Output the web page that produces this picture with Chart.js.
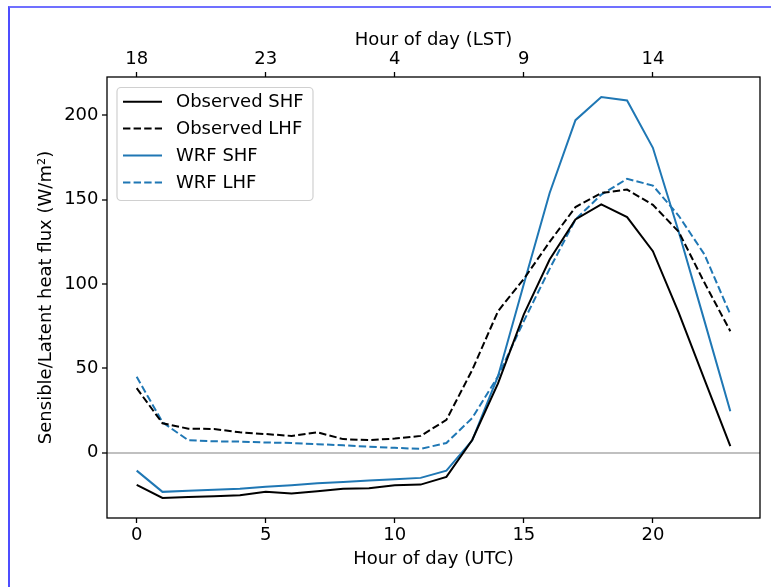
<!DOCTYPE html>
<html>
<head>
<meta charset="utf-8">
<script src="https://cdn.jsdelivr.net/npm/chart.js@4.4.1/dist/chart.umd.min.js"></script>
<style>
  html, body { margin: 0; padding: 0; background: #ffffff; }
  #wrap { position: absolute; left: 0; top: 0; width: 771px; height: 587px; }
  #frame { position: absolute; left: 8px; top: 6px; right: 0; bottom: 0;
           border-top: 2px solid #7070ff; border-left: 2px solid #4d4dff; pointer-events: none; }
</style>
</head>
<body>
<div id="wrap"><canvas id="c"></canvas></div>
<div id="frame"></div>
<script>
// ---- data ----
const hoursUTC = [0,1,2,3,4,5,6,7,8,9,10,11,12,13,14,15,16,17,18,19,20,21,22,23];
const obsSHF = [-19.2,-26.9,-26.3,-25.9,-25.3,-23.3,-24.3,-22.9,-21.4,-21.2,-19.4,-19.0,-14.4,7.5,41,82,114.5,138.3,147.2,139.7,119.5,83,43.3,3.8];
const obsLHF = [38.2,17.4,14.2,14.0,12.0,11.0,9.9,12.0,8.0,7.4,8.3,9.9,19.4,49,83.9,103,125,145.6,154,156,147,131,100.7,72];
const wrfSHF = [-10.7,-23.3,-22.7,-22.1,-21.5,-20.2,-19.3,-18.2,-17.5,-16.6,-15.8,-15.0,-10.7,7.3,45.3,100,154,197.2,210.9,208.9,180.8,131,78,24.5];
const wrfLHF = [45,18,7.3,6.7,6.5,6.0,5.7,5.0,4.3,3.5,2.8,2.2,5.7,20.5,45.3,78,109,138.3,153,162.4,158.4,140.5,117.5,81.9];
const utcTicks = [0,5,10,15,20];
const lstTickLabels = ['18','23','4','9','14'];
const yTicks = [0,50,100,150,200];

const FONT = 'DejaVu Sans';
const BLUE = '#1f77b4';
const DASH = [7.4, 3.2];
const toXY = arr => arr.map((v, i) => ({ x: hoursUTC[i], y: v }));

const series = [
  { label: 'Observed SHF', data: obsSHF, color: '#000000', dash: [] },
  { label: 'Observed LHF', data: obsLHF, color: '#000000', dash: DASH },
  { label: 'WRF SHF', data: wrfSHF, color: BLUE, dash: [] },
  { label: 'WRF LHF', data: wrfLHF, color: BLUE, dash: DASH }
];

const legendPlugin = {
  id: 'mplLegend',
  afterDraw(chart) {
    const ctx = chart.ctx, ca = chart.chartArea;
    const bx = ca.left + 10, by = ca.top + 10.5, bw = 196, bh = 113, r = 4;
    ctx.save();
    ctx.beginPath();
    ctx.moveTo(bx + r, by);
    ctx.arcTo(bx + bw, by, bx + bw, by + bh, r);
    ctx.arcTo(bx + bw, by + bh, bx, by + bh, r);
    ctx.arcTo(bx, by + bh, bx, by, r);
    ctx.arcTo(bx, by, bx + bw, by, r);
    ctx.closePath();
    ctx.fillStyle = 'rgba(255,255,255,0.8)';
    ctx.fill();
    ctx.strokeStyle = '#d0d0d0';
    ctx.lineWidth = 1.2;
    ctx.stroke();
    chart.data.datasets.forEach((ds, i) => {
      const y = by + 14.2 + i * 26.9;
      ctx.beginPath();
      ctx.setLineDash(ds.borderDash || []);
      ctx.strokeStyle = ds.borderColor;
      ctx.lineWidth = 2;
      ctx.moveTo(bx + 6, y);
      ctx.lineTo(bx + 45, y);
      ctx.stroke();
      ctx.setLineDash([]);
      ctx.fillStyle = '#000';
      ctx.font = '18px "' + FONT + '"';
      ctx.textBaseline = 'middle';
      ctx.textAlign = 'left';
      ctx.fillText(ds.label, bx + 59, y + 1);
    });
    // axes frame
    ctx.strokeStyle = '#000';
    ctx.lineWidth = 1.3;
    ctx.strokeRect(ca.left, ca.top, ca.right - ca.left, ca.bottom - ca.top);
    ctx.restore();
  }
};

const tickFont = { family: FONT, size: 18 };
const titleFont = { family: FONT, size: 18 };

new Chart(document.getElementById('c'), {
  type: 'line',
  data: {
    datasets: series.map(s => ({
      label: s.label,
      data: toXY(s.data),
      borderColor: s.color,
      backgroundColor: s.color,
      borderDash: s.dash,
      borderWidth: 2,
      pointRadius: 0,
      tension: 0,
      fill: false
    }))
  },
  options: {
    responsive: true,
    maintainAspectRatio: false,
    animation: false,
    layout: { padding: { left: 0, right: 11, top: 0, bottom: 0 } },
    plugins: { legend: { display: false }, tooltip: { enabled: false } },
    scales: {
      x: {
        type: 'linear', position: 'bottom',
        min: -1.15, max: 24.15,
        afterBuildTicks: s => { s.ticks = utcTicks.map(v => ({ value: v })); },
        afterFit: s => { s.height = 69; },
        ticks: { font: tickFont, color: '#000', padding: 2, maxRotation: 0, autoSkip: false },
        grid: { drawOnChartArea: false, drawTicks: true, tickLength: 5, tickColor: '#000', tickWidth: 1.3, color: '#000' },
        border: { display: false },
        title: { display: true, text: 'Hour of day (UTC)', font: titleFont, color: '#000', padding: { top: 0, bottom: 17 } }
      },
      xTop: {
        type: 'linear', position: 'top',
        min: -1.15, max: 24.15,
        afterBuildTicks: s => { s.ticks = utcTicks.map(v => ({ value: v })); },
        afterFit: s => { s.height = 77; },
        ticks: { font: tickFont, color: '#000', padding: 1.5, maxRotation: 0, autoSkip: false,
                 callback: (v) => lstTickLabels[utcTicks.indexOf(v)] },
        grid: { drawOnChartArea: false, drawTicks: true, tickLength: 5, tickColor: '#000', tickWidth: 1.3, color: '#000' },
        border: { display: false },
        title: { display: true, text: 'Hour of day (LST)', font: titleFont, color: '#000', padding: { top: 30, bottom: 0 } }
      },
      y: {
        type: 'linear', position: 'left',
        min: -38.8, max: 222.8,
        afterBuildTicks: s => { s.ticks = yTicks.map(v => ({ value: v })); },
        afterFit: s => { s.width = 107; },
        ticks: { font: tickFont, color: '#000', padding: 3.5 },
        grid: {
          drawOnChartArea: true, drawTicks: true, tickLength: 5,
          color: c => (c.tick && c.tick.value === 0) ? '#c0c0c0' : 'rgba(0,0,0,0)',
          lineWidth: 2, tickColor: '#000', tickWidth: 1.3
        },
        border: { display: false },
        title: { display: true, text: 'Sensible/Latent heat flux (W/m²)', font: titleFont, color: '#000', padding: { top: 36, bottom: 0 } }
      }
    }
  },
  plugins: [legendPlugin]
});
</script>
</body>
</html>
